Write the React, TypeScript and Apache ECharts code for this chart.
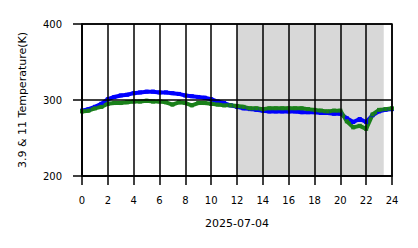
import React, { useEffect, useRef } from "react";
import * as echarts from "echarts";

const hours = [
  0, 0.5, 1, 1.5, 2, 2.5, 3, 3.5, 4, 4.5, 5, 5.5, 6, 6.5, 7, 7.5, 8, 8.5, 9, 9.5,
  10, 10.5, 11, 11.5, 12, 12.5, 13, 13.5, 14, 14.5, 15, 15.5, 16, 16.5, 17, 17.5,
  18, 18.5, 19, 19.5, 20, 20.5, 21, 21.5, 22, 22.5, 23, 23.5, 24,
];
const blueTemp = [
  286, 288, 291, 295, 301, 304, 306, 307, 309, 310, 311, 311, 310, 310, 309, 308,
  306, 305, 304, 303, 301, 298, 296, 293, 291, 289, 288, 287, 286, 285, 285, 285,
  285, 285, 284, 284, 284, 283, 283, 282, 282, 276, 271, 275, 271, 280, 285, 287, 288,
];
const greenTemp = [
  285, 286, 289, 291, 295, 296, 296, 297, 298, 298, 299, 298, 298, 297, 294, 297,
  296, 293, 296, 296, 295, 294, 293, 293, 292, 291, 289, 289, 288, 289, 289, 289,
  289, 289, 289, 288, 287, 286, 285, 286, 286, 272, 264, 266, 262, 281, 287, 288, 289,
];
const shadeRange = [12, 23.36];
const xTicks = [0, 24, 2];
const yTicks = [200, 400, 100];
const xTitle = "2025-07-04";
const yTitle = "3.9 & 11 Temperature(K)";

export default function App() {
  const ref = useRef<HTMLDivElement>(null);
  useEffect(() => {
    if (!ref.current) return;
    const chart = echarts.init(ref.current, null, { renderer: "svg" });
    const font = "DejaVu Sans";
    const blue = hours.map((h, i) => [h, blueTemp[i]]);
    const green = hours.map((h, i) => [h, greenTemp[i]]);
    chart.setOption({
      animation: false,
      backgroundColor: "#fff",
      textStyle: { fontFamily: font },
      grid: {
        left: 82,
        right: 26,
        top: 24,
        bottom: 72,
        show: true,
        borderColor: "#000",
        borderWidth: 1.5,
        backgroundColor: "transparent",
        z: 4,
      },
      xAxis: {
        type: "value",
        min: xTicks[0],
        max: xTicks[1],
        interval: xTicks[2],
        z: 3,
        name: xTitle,
        nameLocation: "middle",
        nameGap: 42,
        nameTextStyle: { fontSize: 11, color: "#000", fontFamily: font },
        axisLine: { show: true, lineStyle: { color: "#000", width: 1.5 } },
        axisTick: { show: true, length: 9, lineStyle: { color: "#000", width: 1.5 } },
        axisLabel: { fontSize: 10, color: "#000", margin: 19, fontFamily: font },
        splitLine: { show: true, lineStyle: { color: "#000", width: 1.5 } },
      },
      yAxis: {
        type: "value",
        min: yTicks[0],
        max: yTicks[1],
        interval: yTicks[2],
        z: 3,
        name: yTitle,
        nameLocation: "middle",
        nameGap: 54,
        nameTextStyle: { fontSize: 11, color: "#000", fontFamily: font },
        axisLine: { show: true, lineStyle: { color: "#000", width: 1.5 } },
        axisTick: { show: true, length: 9, lineStyle: { color: "#000", width: 1.5 } },
        axisLabel: { fontSize: 10, color: "#000", margin: 20, fontFamily: font },
        splitLine: { show: true, lineStyle: { color: "#000", width: 1.5 } },
      },
      series: [
        {
          type: "line",
          data: blue,
          z: 2,
          color: "#0000ff",
          symbol: "rect",
          symbolSize: 4,
          lineStyle: { width: 4, color: "#0000ff" },
          itemStyle: { color: "#0000ff" },
          markArea: {
            silent: true,
            z: 1,
            itemStyle: { color: "#d8d8d8" },
            data: [[{ xAxis: shadeRange[0] }, { xAxis: shadeRange[1] }]],
          },
        },
        {
          type: "line",
          data: green,
          z: 2,
          color: "#1a801a",
          symbol: "rect",
          symbolSize: 4,
          lineStyle: { width: 4, color: "#1a801a" },
          itemStyle: { color: "#1a801a" },
        },
      ],
    });
    return () => chart.dispose();
  }, []);
  return (
    <div
      ref={ref}
      style={{ position: "fixed", left: 0, top: 0, width: 418, height: 248 }}
    />
  );
}
